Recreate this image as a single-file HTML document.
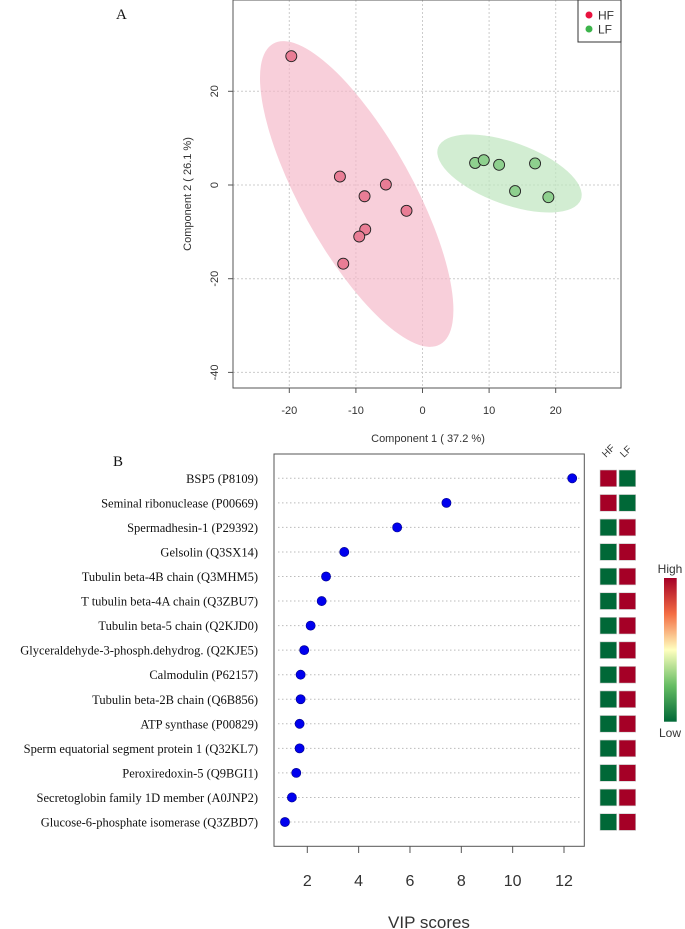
<!DOCTYPE html>
<html><head><meta charset="utf-8"><style>
body{margin:0;background:#fff;width:685px;height:929px;overflow:hidden}
svg{display:block}
.s{font-family:"Liberation Sans",sans-serif;fill:#333}
.r{font-family:"Liberation Serif",serif;fill:#111}
</style></head><body>
<svg id="chart" width="685" height="929" xmlns="http://www.w3.org/2000/svg">
<text class="r" x="116" y="19" font-size="15">A</text>
<text class="r" x="113" y="466" font-size="15">B</text>
<g id="topg"></g>
<g id="botg"></g>
</svg>
<script>
const NS='http://www.w3.org/2000/svg';
function mk(p,t,a,txt){const e=document.createElementNS(NS,t);for(const k in a)e.setAttribute(k,a[k]);if(txt!==undefined)e.textContent=txt;p.appendChild(e);return e;}
// ---- Panel A data ----
const hfX=[-19.7,-12.4,-8.7,-5.5,-2.4,-8.6,-9.5,-11.9];
const hfY=[27.5,1.8,-2.4,0.1,-5.5,-9.5,-11,-16.8];
const lfX=[7.9,9.2,11.5,16.9,13.9,18.9];
const lfY=[4.7,5.3,4.3,4.6,-1.3,-2.6];
const xTicksA=[-20,-10,0,10,20];
const yTicksA=[20,0,-20,-40];
// ---- Panel B data ----
const proteins=["BSP5 (P8109)","Seminal ribonuclease (P00669)","Spermadhesin-1 (P29392)","Gelsolin (Q3SX14)","Tubulin beta-4B chain (Q3MHM5)","T tubulin beta-4A chain (Q3ZBU7)","Tubulin beta-5 chain (Q2KJD0)","Glyceraldehyde-3-phosph.dehydrog. (Q2KJE5)","Calmodulin (P62157)","Tubulin beta-2B chain (Q6B856)","ATP synthase (P00829)","Sperm equatorial segment protein 1 (Q32KL7)","Peroxiredoxin-5 (Q9BGI1)","Secretoglobin family 1D member (A0JNP2)","Glucose-6-phosphate isomerase (Q3ZBD7)"];
const vip=[12.32,7.42,5.5,3.44,2.73,2.56,2.13,1.88,1.74,1.74,1.70,1.70,1.57,1.40,1.13];
const hfHigh=[1,1,0,0,0,0,0,0,0,0,0,0,0,0,0];
const xTicksB=[2,4,6,8,10,12];

const gTop=document.getElementById('topg');
const ax=v=>422.5+v*6.66, ay=v=>185-v*4.685;
const L=233,R=621,T=0,B=388;
for(const t of xTicksA){mk(gTop,'line',{x1:ax(t),x2:ax(t),y1:T,y2:B,stroke:'#ccc','stroke-dasharray':'2,2'});}
for(const t of yTicksA){mk(gTop,'line',{x1:L,x2:R,y1:ay(t),y2:ay(t),stroke:'#ccc','stroke-dasharray':'2,2'});}
let e=mk(gTop,'ellipse',{cx:356.7,cy:194,rx:56,ry:172,transform:'rotate(-29 356.7 194)',fill:'#f4b6c6','fill-opacity':0.65});


e=mk(gTop,'ellipse',{cx:509.5,cy:173.5,rx:76,ry:31,transform:'rotate(20 509.5 173.5)',fill:'#bfe5bf','fill-opacity':0.7});


hfX.forEach((x,i)=>{const c=mk(gTop,'circle',{cx:ax(x),cy:ay(hfY[i]),r:5.5,fill:'#e97d95',stroke:'#222','stroke-width':0.9});

});
lfX.forEach((x,i)=>{const c=mk(gTop,'circle',{cx:ax(x),cy:ay(lfY[i]),r:5.5,fill:'#8ed08e',stroke:'#222','stroke-width':0.9});

});
mk(gTop,'rect',{x:L,y:T,width:R-L,height:B-T,fill:'none',stroke:'#555','stroke-width':1});
for(const t of xTicksA){mk(gTop,'line',{x1:ax(t),x2:ax(t),y1:B,y2:B+5,stroke:'#555'});
const tx=mk(gTop,'text',{x:ax(t),y:B+26,'text-anchor':'middle','font-size':11,class:'s'},String(t));

}
for(const t of yTicksA){mk(gTop,'line',{x1:L-5,x2:L,y1:ay(t),y2:ay(t),stroke:'#555'});
const tx=mk(gTop,'text',{x:0,y:0,'text-anchor':'middle','font-size':11,class:'s',transform:`translate(218 ${ay(t)}) rotate(-90)`},String(t));

}
let tt=mk(gTop,'text',{x:428,y:442,'text-anchor':'middle','font-size':11,class:'s'},'Component 1 ( 37.2 %)');


tt=mk(gTop,'text',{x:0,y:0,'text-anchor':'middle','font-size':11,class:'s',transform:'translate(191 194) rotate(-90)'},'Component 2 ( 26.1 %)');


const lg=mk(gTop,'g',{});


mk(lg,'rect',{x:578,y:0,width:43,height:42,fill:'#fff',stroke:'#333'});
mk(lg,'circle',{cx:589,cy:15,r:3.5,fill:'#e8123e'});mk(lg,'text',{x:598,y:19.5,'font-size':12,class:'s'},'HF');
mk(lg,'circle',{cx:589,cy:29,r:3.5,fill:'#3cb44b'});mk(lg,'text',{x:598,y:33.5,'font-size':12,class:'s'},'LF');

// Panel B
const gBot=document.getElementById('botg');
const bx=v=>307.3+(v-2)*25.67, by=i=>478.3+i*24.55;
proteins.forEach((p,i)=>{
mk(gBot,'line',{x1:278,x2:582,y1:by(i),y2:by(i),stroke:'#bbb','stroke-dasharray':'1.5,2.5'});
const t=mk(gBot,'text',{x:258,y:by(i)+4.5,'text-anchor':'end','font-size':12.5,class:'r'},p);


const c=mk(gBot,'circle',{cx:bx(vip[i]),cy:by(i),r:4.6,fill:'#0000ee',stroke:'#00008b','stroke-width':0.6});


const red='#a50026',grn='#006837';
const h=mk(gBot,'rect',{x:600,y:by(i)-8.3,width:16.7,height:16.7,fill:hfHigh[i]?red:grn,stroke:'#ccc','stroke-width':0.6});


const l=mk(gBot,'rect',{x:619,y:by(i)-8.3,width:16.7,height:16.7,fill:hfHigh[i]?grn:red,stroke:'#ccc','stroke-width':0.6});


});
mk(gBot,'rect',{x:274,y:454,width:310.3,height:392.3,fill:'none',stroke:'#555','stroke-width':1});
for(const t of xTicksB){mk(gBot,'line',{x1:bx(t),x2:bx(t),y1:846,y2:853,stroke:'#555'});
const tx=mk(gBot,'text',{x:bx(t),y:886,'text-anchor':'middle','font-size':16,class:'s'},String(t));

}
tt=mk(gBot,'text',{x:429,y:928,'text-anchor':'middle','font-size':17,class:'s'},'VIP scores');


mk(gBot,'text',{x:0,y:0,'font-size':10,class:'s',transform:'translate(606 458) rotate(-45)'},'HF');
mk(gBot,'text',{x:0,y:0,'font-size':10,class:'s',transform:'translate(624 458) rotate(-45)'},'LF');
const defs=mk(gBot,'defs',{});const g=mk(defs,'linearGradient',{id:'cb',x1:0,y1:0,x2:0,y2:1});
[['0','#a50026'],['0.25','#f46d43'],['0.5','#ffffbf'],['0.75','#66bd63'],['1','#006837']].forEach(s=>mk(g,'stop',{offset:s[0],'stop-color':s[1]}));
const cb=mk(gBot,'rect',{x:664,y:578,width:12.7,height:143.7,fill:'url(#cb)'});


mk(gBot,'text',{x:670,y:573,'text-anchor':'middle','font-size':12,class:'s'},'High');
mk(gBot,'text',{x:670,y:737,'text-anchor':'middle','font-size':12,class:'s'},'Low');
</script>
</body></html>
